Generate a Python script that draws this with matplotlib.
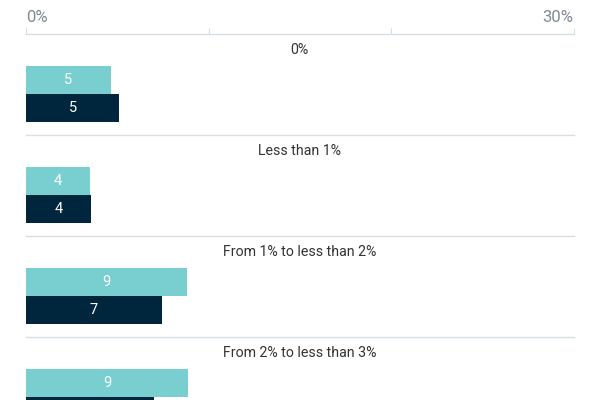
import matplotlib
matplotlib.use("Agg")
import matplotlib.pyplot as plt

categories = ["0%", "Less than 1%", "From 1% to less than 2%", "From 2% to less than 3%"]
series_a = [4.66, 3.51, 8.84, 8.88]   # light teal
series_b = [5.10, 3.56, 7.45, 7.01]   # dark navy
tick_values = [0, 10, 20, 30]
tick_labels = ["0%", "", "", "30%"]

TEAL = "#79cfd0"
NAVY = "#00263d"
GRID = "#d5dde5"
TXT = "#333333"
TICK_TXT = "#7f8a94"

plt.rcParams['font.family'] = ['Roboto', 'DejaVu Sans']

W, H = 600, 400
fig = plt.figure(figsize=(6, 4), dpi=100)
left, right, top = 26, 573.6, 34
ax = fig.add_axes([left / W, 0, (right - left) / W, (H - top) / H])

period = 101.0
ymax = (H - top) / period
ax.set_xlim(0, 30)
ax.set_ylim(ymax, 0)

bh = 28 / period
ca = 46 / period
cb = 74 / period
lab = 16 / period


def value_label(x, y):
    # only label bars whose centre lies inside the visible area
    if y + 0.05 < ymax:
        ax.text(x / 2, y, f"{round(x):.0f}", color="white",
                ha="center", va="center", fontsize=10.5, clip_on=True)


for i, cat in enumerate(categories):
    ya = i + ca
    yb = i + cb
    ax.barh(ya, series_a[i], height=bh, color=TEAL, linewidth=0)
    ax.barh(yb, series_b[i], height=bh, color=NAVY, linewidth=0)
    value_label(series_a[i], ya)
    value_label(series_b[i], yb)
    ax.text(15, i + lab, cat, color=TXT, ha="center", va="center", fontsize=10.2,
            clip_on=True)
    ax.axhline(i + 1, color=GRID, linewidth=1, clip_on=False)

for s in ["bottom", "left", "right"]:
    ax.spines[s].set_visible(False)
ax.spines["top"].set_color(GRID)
ax.spines["top"].set_linewidth(1)
ax.set_yticks([])
ax.xaxis.tick_top()
ax.set_xticks(tick_values)
ax.set_xticklabels(tick_labels)
ax.tick_params(axis="x", direction="out", length=4.5, width=0.8, color=GRID,
               labelcolor=TICK_TXT, labelsize=12, pad=2)
lbls = ax.get_xticklabels()
lbls[0].set_horizontalalignment("left")
lbls[-1].set_horizontalalignment("right")

fig.savefig("out.png", dpi=100)
